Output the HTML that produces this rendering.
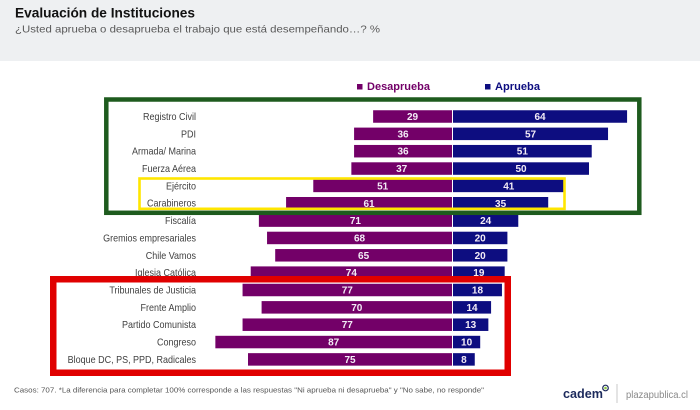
<!DOCTYPE html>
<html><head><meta charset="utf-8"><style>
html,body{margin:0;padding:0;background:#fff;}
svg{display:block;}
</style></head><body>
<svg width="700" height="410" viewBox="0 0 700 410" xmlns="http://www.w3.org/2000/svg" font-family="'Liberation Sans', sans-serif">
<rect x="0" y="0" width="700" height="410" fill="#ffffff"/>
<rect x="0" y="0" width="700" height="61" fill="#eef0f2"/>
<text x="15" y="17.5" font-size="14" font-weight="bold" fill="#111" textLength="180" lengthAdjust="spacingAndGlyphs">Evaluación de Instituciones</text>
<text x="15" y="32.5" font-size="10.5" fill="#595959" textLength="365" lengthAdjust="spacingAndGlyphs">¿Usted aprueba o desaprueba el trabajo que está desempeñando…? %</text>

<!-- legend -->
<rect x="357" y="84" width="5.5" height="5.5" fill="#730068"/>
<text x="367" y="90" font-size="11" font-weight="bold" fill="#730068" textLength="63" lengthAdjust="spacingAndGlyphs">Desaprueba</text>
<rect x="485" y="84" width="5.5" height="5.5" fill="#0d0d80"/>
<text x="495" y="90" font-size="11" font-weight="bold" fill="#0d0d80" textLength="45" lengthAdjust="spacingAndGlyphs">Aprueba</text>

<!-- bars -->
<g>
<rect x="373.12" y="110.25" width="78.88" height="12.5" fill="#730068"/><rect x="453" y="110.25" width="174.08" height="12.5" fill="#0d0d80"/>
<rect x="354.08" y="127.6" width="97.92" height="12.5" fill="#730068"/><rect x="453" y="127.6" width="155.04" height="12.5" fill="#0d0d80"/>
<rect x="354.08" y="144.95" width="97.92" height="12.5" fill="#730068"/><rect x="453" y="144.95" width="138.72" height="12.5" fill="#0d0d80"/>
<rect x="351.36" y="162.3" width="100.64" height="12.5" fill="#730068"/><rect x="453" y="162.3" width="136" height="12.5" fill="#0d0d80"/>
<rect x="313.28" y="179.65" width="138.72" height="12.5" fill="#730068"/><rect x="453" y="179.65" width="111.52" height="12.5" fill="#0d0d80"/>
<rect x="286.08" y="197.0" width="165.92" height="12.5" fill="#730068"/><rect x="453" y="197.0" width="95.2" height="12.5" fill="#0d0d80"/>
<rect x="258.88" y="214.35" width="193.12" height="12.5" fill="#730068"/><rect x="453" y="214.35" width="65.28" height="12.5" fill="#0d0d80"/>
<rect x="267.04" y="231.7" width="184.96" height="12.5" fill="#730068"/><rect x="453" y="231.7" width="54.4" height="12.5" fill="#0d0d80"/>
<rect x="275.2" y="249.05" width="176.8" height="12.5" fill="#730068"/><rect x="453" y="249.05" width="54.4" height="12.5" fill="#0d0d80"/>
<rect x="250.72" y="266.4" width="201.28" height="12.5" fill="#730068"/><rect x="453" y="266.4" width="51.68" height="12.5" fill="#0d0d80"/>
<rect x="242.56" y="283.75" width="209.44" height="12.5" fill="#730068"/><rect x="453" y="283.75" width="48.96" height="12.5" fill="#0d0d80"/>
<rect x="261.6" y="301.1" width="190.4" height="12.5" fill="#730068"/><rect x="453" y="301.1" width="38.08" height="12.5" fill="#0d0d80"/>
<rect x="242.56" y="318.45" width="209.44" height="12.5" fill="#730068"/><rect x="453" y="318.45" width="35.36" height="12.5" fill="#0d0d80"/>
<rect x="215.36" y="335.8" width="236.64" height="12.5" fill="#730068"/><rect x="453" y="335.8" width="27.2" height="12.5" fill="#0d0d80"/>
<rect x="248" y="353.15" width="204" height="12.5" fill="#730068"/><rect x="453" y="353.15" width="21.76" height="12.5" fill="#0d0d80"/>
</g>

<!-- values -->
<g font-size="10" font-weight="bold" fill="#f3ecf6" text-anchor="middle">
<text x="412.56" y="120">29</text><text x="540.04" y="120">64</text>
<text x="403.04" y="137.35">36</text><text x="530.52" y="137.35">57</text>
<text x="403.04" y="154.7">36</text><text x="522.36" y="154.7">51</text>
<text x="401.68" y="172.05">37</text><text x="521" y="172.05">50</text>
<text x="382.64" y="189.4">51</text><text x="508.76" y="189.4">41</text>
<text x="369.04" y="206.75">61</text><text x="500.6" y="206.75">35</text>
<text x="355.44" y="224.1">71</text><text x="485.64" y="224.1">24</text>
<text x="359.52" y="241.45">68</text><text x="480.2" y="241.45">20</text>
<text x="363.6" y="258.8">65</text><text x="480.2" y="258.8">20</text>
<text x="351.36" y="276.15">74</text><text x="478.84" y="276.15">19</text>
<text x="347.28" y="293.5">77</text><text x="477.48" y="293.5">18</text>
<text x="356.8" y="310.85">70</text><text x="472.04" y="310.85">14</text>
<text x="347.28" y="328.2">77</text><text x="470.68" y="328.2">13</text>
<text x="333.68" y="345.55">87</text><text x="466.6" y="345.55">10</text>
<text x="350" y="362.9">75</text><text x="463.88" y="362.9">8</text>
</g>

<!-- labels -->
<g transform="translate(196,0) scale(0.9,1)" font-size="10" fill="#404040" text-anchor="end">
<text x="0" y="120">Registro Civil</text>
<text x="0" y="137.35">PDI</text>
<text x="0" y="154.7">Armada/ Marina</text>
<text x="0" y="172.05">Fuerza Aérea</text>
<text x="0" y="189.4">Ejército</text>
<text x="0" y="206.75">Carabineros</text>
<text x="0" y="224.1">Fiscalía</text>
<text x="0" y="241.45">Gremios empresariales</text>
<text x="0" y="258.8">Chile Vamos</text>
<text x="0" y="276.15">Iglesia Católica</text>
<text x="0" y="293.5">Tribunales de Justicia</text>
<text x="0" y="310.85">Frente Amplio</text>
<text x="0" y="328.2">Partido Comunista</text>
<text x="0" y="345.55">Congreso</text>
<text x="0" y="362.9">Bloque DC, PS, PPD, Radicales</text>
</g>

<!-- highlight boxes -->
<rect x="106.3" y="99.5" width="533" height="113.3" fill="none" stroke="#1e5b1e" stroke-width="4.5"/>
<rect x="139.5" y="178.5" width="425" height="30.3" fill="none" stroke="#ffe600" stroke-width="2.6"/>
<rect x="53.25" y="279.25" width="454.5" height="93.5" fill="none" stroke="#e00000" stroke-width="6.5"/>

<!-- footer -->
<text x="14" y="392.5" font-size="7.5" fill="#555" textLength="470" lengthAdjust="spacingAndGlyphs">Casos: 707. *La diferencia para completar 100% corresponde a las respuestas "Ni aprueba ni desaprueba" y "No sabe, no responde"</text>
<text x="563" y="398" font-size="13" font-weight="bold" fill="#1c2a5c" textLength="40" lengthAdjust="spacingAndGlyphs">cadem</text>
<circle cx="605.5" cy="388" r="2.8" fill="none" stroke="#1c2a5c" stroke-width="1.2"/>
<circle cx="605.5" cy="388" r="1.3" fill="#8cc63f"/>
<line x1="617" y1="384" x2="617" y2="403" stroke="#c8c8c8" stroke-width="1"/>
<text x="626" y="398" font-size="10" fill="#8a8a8a" textLength="62" lengthAdjust="spacingAndGlyphs">plazapublica.cl</text>
</svg>
</body></html>
